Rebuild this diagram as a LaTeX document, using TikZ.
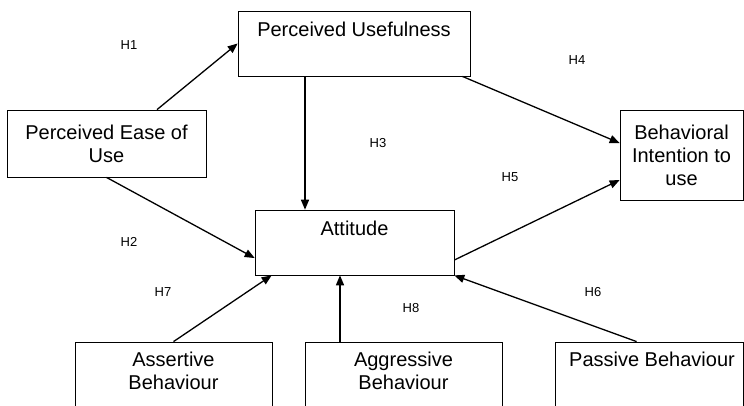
\documentclass[tikz,border=0pt]{standalone}
\usepackage{fontspec}
\setmainfont{Liberation Sans}
\usetikzlibrary{arrows,calc}

\tikzset{
  box/.style={draw, line width=0.8pt, inner sep=0pt},
  boxtext/.style={align=center, font=\fontsize{20pt}{23pt}\selectfont},
  hyp/.style={font=\fontsize{13pt}{15pt}\selectfont},
  link/.style={->, line width=1.3pt}
}

\begin{document}
\begin{tikzpicture}[>=triangle 45, x=1pt, y=-1pt]
\clip (0,0) rectangle (744,405);

% constructs
\node[box, minimum width=232pt, minimum height=65pt] (pu) at (354,43.5) {};
\node[boxtext] (putext) at ($(pu.north)+(0,19)$) {Perceived Usefulness};

\node[box, minimum width=199pt, minimum height=67pt, boxtext] (peou) at (106.5,143.5) {Perceived Ease of\\Use};

\node[box, minimum width=199pt, minimum height=65pt] (att) at (354.5,242.5) {};
\node[boxtext] (atttext) at ($(att.north)+(0,19)$) {Attitude};

\node[box, minimum width=123pt, minimum height=90pt, boxtext] (bi) at (681.5,155) {Behavioral\\Intention to\\use};

% behaviour boxes, cut by the page edge
\node[box, minimum width=197pt, minimum height=90pt] (as) at (173.5,387) {};
\node[boxtext] (astext) at ($(as.north)+(0,29.5)$) {Assertive\\Behaviour};

\node[box, minimum width=197pt, minimum height=90pt] (ag) at (403.5,387) {};
\node[boxtext] (agtext) at ($(ag.north)+(0,29.5)$) {Aggressive\\Behaviour};

\node[box, minimum width=188pt, minimum height=90pt] (pa) at (649,387) {};
\node[boxtext] (patext) at ($(pa.north)+(3,18)$) {Passive Behaviour};

% hypotheses
\draw[link] ($(peou.north)+(50.5,0)$) -- (pu.west);
\draw[link] ($(pu.south)+(-49,0)$) -- ($(att.north)+(-49.5,0)$);
\draw[link] (peou.south) -- ($(att.west)+(0,15.5)$);
\draw[link] ($(pu.south east)+(-8,0)$) -- ($(bi.west)+(0,-12)$);
\draw[link] ($(att.east)+(0,17.5)$) -- ($(bi.west)+(0,25)$);
\draw[link] (as.north) -- ($(att.south west)+(17,0)$);
\draw[link] ($(ag.north)+(-63.5,0)$) -- ($(att.south)+(-14.5,0)$);
\draw[link] ($(pa.north west)+(82,0)$) -- (att.south east);

\foreach \name/\x/\y in {H1/129/45, H4/577/60, H3/378/143, H5/510/177,
                         H2/129/242, H7/163/292, H8/411/308, H6/593/292}
  \node[hyp] (\name) at (\x,\y) {\name};

\end{tikzpicture}
\end{document}
